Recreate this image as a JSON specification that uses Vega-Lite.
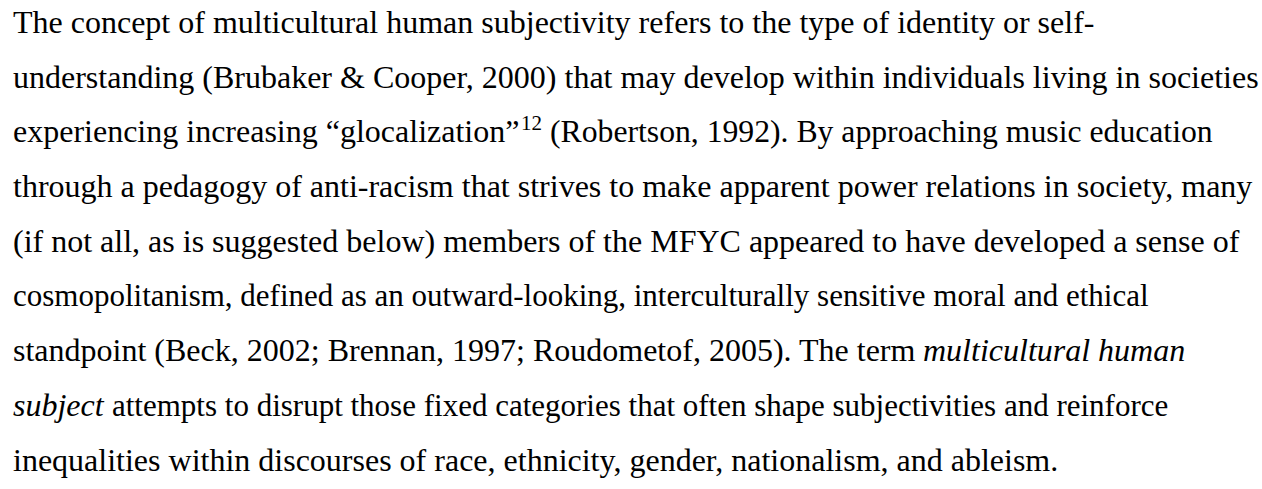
{
  "$schema": "https://vega.github.io/schema/vega-lite/v6.json",
  "width": 1262,
  "height": 489,
  "autosize": {"type": "fit", "contains": "padding"},
  "padding": 0,
  "background": "white",
  "config": {"view": {"stroke": null}},
  "data": {"values": [
    {"line": 1, "part": "main", "text": "The concept of multicultural human subjectivity refers to the type of identity or self-"},
    {"line": 2, "part": "main", "text": "understanding (Brubaker & Cooper, 2000) that may develop within individuals living in societies"},
    {"line": 3, "part": "main", "text": "experiencing increasing “glocalization”"},
    {"line": 3, "part": "sup", "text": "12"},
    {"line": 3, "part": "aftersup", "text": "(Robertson, 1992). By approaching music education"},
    {"line": 4, "part": "main", "text": "through a pedagogy of anti-racism that strives to make apparent power relations in society, many"},
    {"line": 5, "part": "main", "text": "(if not all, as is suggested below) members of the MFYC appeared to have developed a sense of"},
    {"line": 6, "part": "tight", "text": "cosmopolitanism, defined as an outward-looking, interculturally sensitive moral and ethical"},
    {"line": 7, "part": "main", "text": "standpoint (Beck, 2002; Brennan, 1997; Roudometof, 2005). The term"},
    {"line": 7, "part": "ital7", "text": "multicultural human"},
    {"line": 8, "part": "ital8", "text": "subject"},
    {"line": 8, "part": "afterital8", "text": "attempts to disrupt those fixed categories that often shape subjectivities and reinforce"},
    {"line": 9, "part": "main", "text": "inequalities within discourses of race, ethnicity, gender, nationalism, and ableism."}
  ]},
  "encoding": {
    "y": {"field": "line", "type": "quantitative", "scale": {"domain": [0.397, 9.337], "range": [0, 489]}, "axis": null},
    "x": {"datum": 0, "type": "quantitative", "scale": {"domain": [0, 1], "range": [13, 1262]}, "axis": null},
    "text": {"field": "text"}
  },
  "layer": [
    {"transform": [{"filter": "datum.part == 'main'"}],
     "mark": {"type": "text", "font": "Liberation Serif", "fontSize": 32, "align": "left", "baseline": "alphabetic", "color": "black"}},
    {"transform": [{"filter": "datum.part == 'tight'"}],
     "mark": {"type": "text", "font": "Liberation Serif", "fontSize": 31, "align": "left", "baseline": "alphabetic", "color": "black"}},
    {"transform": [{"filter": "datum.part == 'sup'"}],
     "mark": {"type": "text", "font": "Liberation Serif", "fontSize": 21, "align": "left", "baseline": "alphabetic", "color": "black", "dx": 508, "dy": -12}},
    {"transform": [{"filter": "datum.part == 'aftersup'"}],
     "mark": {"type": "text", "font": "Liberation Serif", "fontSize": 31.7, "align": "left", "baseline": "alphabetic", "color": "black", "dx": 537}},
    {"transform": [{"filter": "datum.part == 'ital7'"}],
     "mark": {"type": "text", "font": "Liberation Serif", "fontSize": 32, "fontStyle": "italic", "align": "left", "baseline": "alphabetic", "color": "black", "dx": 910}},
    {"transform": [{"filter": "datum.part == 'ital8'"}],
     "mark": {"type": "text", "font": "Liberation Serif", "fontSize": 32, "fontStyle": "italic", "align": "left", "baseline": "alphabetic", "color": "black"}},
    {"transform": [{"filter": "datum.part == 'afterital8'"}],
     "mark": {"type": "text", "font": "Liberation Serif", "fontSize": 31, "align": "left", "baseline": "alphabetic", "color": "black", "dx": 99}}
  ]
}
